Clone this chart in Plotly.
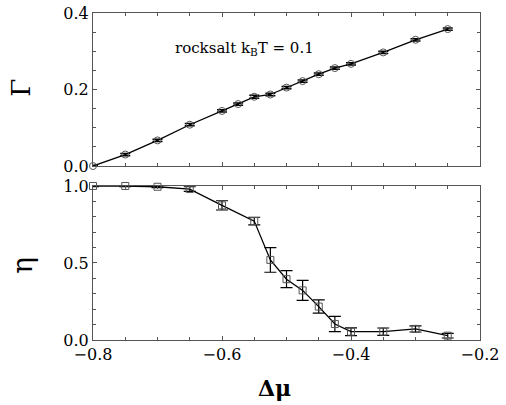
import plotly.graph_objects as go
from plotly.subplots import make_subplots

# chemical potential difference grid
mu_gamma = [-0.8, -0.75, -0.7, -0.65, -0.6, -0.575, -0.55, -0.525, -0.5,
            -0.475, -0.45, -0.425, -0.4, -0.35, -0.3, -0.25]
gamma = [0.0, 0.030, 0.067, 0.108, 0.144, 0.162, 0.181, 0.187, 0.205,
         0.222, 0.240, 0.256, 0.267, 0.297, 0.330, 0.358]
gamma_err = [0.002, 0.003, 0.003, 0.003, 0.003, 0.003, 0.004, 0.003, 0.003,
             0.003, 0.003, 0.003, 0.003, 0.003, 0.003, 0.003]

mu_eta = [-0.8, -0.75, -0.7, -0.65, -0.6, -0.55, -0.525, -0.5,
          -0.475, -0.45, -0.425, -0.4, -0.35, -0.3, -0.25]
eta = [1.0, 1.0, 0.995, 0.98, 0.874, 0.772, 0.52, 0.395,
       0.322, 0.217, 0.104, 0.054, 0.054, 0.072, 0.028]
eta_err = [0.005, 0.005, 0.006, 0.015, 0.03, 0.025, 0.08, 0.055,
           0.065, 0.043, 0.05, 0.025, 0.024, 0.02, 0.015]

x_ticks = [-0.8, -0.6, -0.4, -0.2]
x_ticktext = ["\u22120.8", "\u22120.6", "\u22120.4", "\u22120.2"]
gamma_ticks = [0.0, 0.2, 0.4]
eta_ticks = [0.0, 0.5, 1.0]

SERIF = "DejaVu Serif"
FRAME = "#555555"

fig = make_subplots(rows=2, cols=1, shared_xaxes=False, vertical_spacing=0.06)

fig.add_trace(go.Scatter(
    x=mu_gamma, y=gamma, mode="lines+markers", cliponaxis=False,
    line=dict(color="black", width=1.3),
    marker=dict(symbol="circle-open", size=7, color="#555555", line=dict(width=1)),
    error_y=dict(type="data", array=gamma_err, color="black", thickness=1.5, width=5),
    showlegend=False), row=1, col=1)

fig.add_trace(go.Scatter(
    x=mu_eta, y=eta, mode="lines+markers", cliponaxis=False,
    line=dict(color="black", width=1.3),
    marker=dict(symbol="square-open", size=7, color="#555555", line=dict(width=1)),
    error_y=dict(type="data", array=eta_err, color="black", thickness=1.2, width=6),
    showlegend=False), row=2, col=1)

axis_common = dict(
    showline=True, linecolor=FRAME, linewidth=1, mirror="ticks", automargin=False,
    ticks="inside", ticklen=4, tickcolor=FRAME, showgrid=False, zeroline=False,
    tickfont=dict(family=SERIF, size=16, color="black"),
)

fig.update_xaxes(range=[-0.8, -0.2], tickvals=x_ticks, ticktext=x_ticktext,
                 minor=dict(dtick=0.05, tick0=-0.8, ticks="inside", ticklen=3,
                            tickcolor=FRAME),
                 **axis_common)
fig.update_xaxes(showticklabels=False, row=1, col=1)

fig.update_yaxes(range=[0, 0.4], tickvals=gamma_ticks, tickformat=".1f",
                 minor=dict(dtick=0.05, tick0=0, ticks="inside", ticklen=3, tickcolor=FRAME),
                 row=1, col=1, **axis_common)
fig.update_yaxes(range=[0, 1.0], tickvals=eta_ticks, tickformat=".1f",
                 minor=dict(dtick=0.1, tick0=0, ticks="inside", ticklen=3, tickcolor=FRAME),
                 row=2, col=1, **axis_common)

fig.update_layout(
    width=506, height=405,
    margin=dict(l=93, r=26, t=13, b=65),
    paper_bgcolor="white", plot_bgcolor="white",
    font=dict(family=SERIF, color="black"),
    xaxis=dict(domain=[0, 1]), xaxis2=dict(domain=[0, 1]),
    yaxis=dict(domain=[0.532, 1.0]), yaxis2=dict(domain=[0.0, 0.471]),
)

# axis titles
fig.add_annotation(x=0.47, y=-0.147, xref="paper", yref="paper",
                   text="<b>\u0394\u03bc</b>", showarrow=False,
                   xanchor="center", yanchor="middle",
                   font=dict(family=SERIF, size=22, color="black"))
fig.add_annotation(x=-0.188, y=0.772, xref="paper", yref="paper",
                   text="\u0393", showarrow=False, textangle=-90,
                   xanchor="center", yanchor="middle",
                   font=dict(family=SERIF, size=26, color="black"))
fig.add_annotation(x=-0.182, y=0.229, xref="paper", yref="paper",
                   text="\u03b7", showarrow=False, textangle=-90,
                   xanchor="center", yanchor="middle",
                   font=dict(family=SERIF, size=28, color="black"))

fig.add_annotation(x=-0.565, y=0.308, xref="x", yref="y",
                   text="rocksalt k<sub>B</sub>T = 0.1", showarrow=False,
                   font=dict(family=SERIF, size=15, color="black"))

fig.write_html("out.html")
